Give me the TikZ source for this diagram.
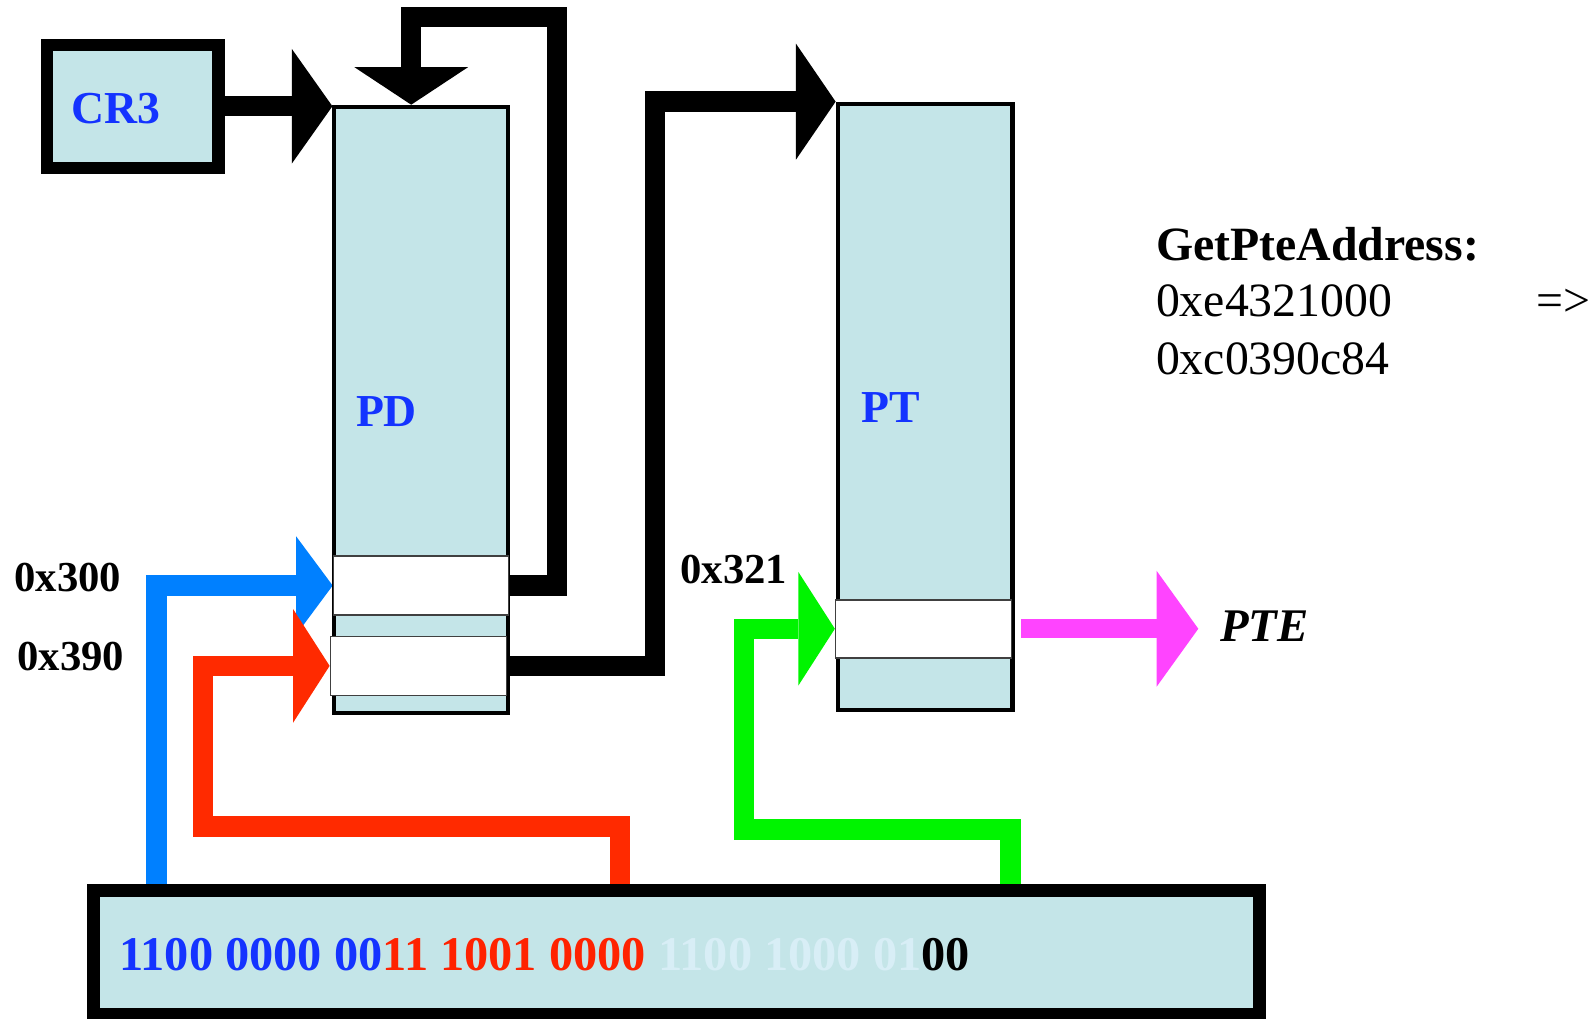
\documentclass[tikz,border=0pt]{standalone}
\usepackage{fontspec}
\setmainfont{Liberation Serif}
\usetikzlibrary{arrows.meta,calc,backgrounds}
\definecolor{boxfill}{HTML}{C4E5E8}
\definecolor{lblblue}{HTML}{1433FF}
\definecolor{arrblue}{HTML}{0080FF}
\definecolor{arrred}{HTML}{FF2A00}
\definecolor{arrgreen}{HTML}{00F400}
\definecolor{arrmag}{HTML}{FF44FF}
\definecolor{txtred}{HTML}{FF2200}
\definecolor{txtlight}{HTML}{D8EEF6}
\tikzset{
  panel/.style={draw=black, fill=boxfill, inner sep=0pt},
  slot/.style={draw=black!75, fill=white, line width=1.5pt, inner sep=0pt},
  conn/.style={line width=20pt, line join=miter, line cap=butt},
  headtip/.style 2 args={-{Triangle[length=#1pt,width=#2pt,line width=0pt]}},
  lbl/.style={font=\fontsize{45}{50}\selectfont\bfseries, text=lblblue, inner sep=0pt, anchor=base west},
  hexlbl/.style={font=\fontsize{42}{46}\selectfont\bfseries, inner sep=0pt, anchor=base west},
  info/.style={font=\fontsize{47}{52}\selectfont, inner sep=0pt, anchor=base west},
}
\begin{document}
\begin{tikzpicture}[x=1pt,y=-1pt]
\useasboundingbox (0,0) rectangle (1568,1002);
% boxes
\node[panel, line width=12pt, minimum width=169pt, minimum height=121pt] (cr3) at (130.5,104.5) {};
\node[panel, line width=4pt, minimum width=171pt, minimum height=596pt] (pd) at (414.5,403) {};
\node[panel, line width=4pt, minimum width=172pt, minimum height=596pt] (pt) at (910,400) {};
\node[slot, minimum width=172pt, minimum height=58pt] (s1) at (414,576) {};
\node[slot, minimum width=173pt, minimum height=58pt] (s2) at (411.5,655) {};
\node[slot, minimum width=173pt, minimum height=57pt] (ps) at (908.5,618.5) {};
\node[panel, line width=12pt, minimum width=1147pt, minimum height=122pt] (va) at (665.5,937) {};
% texts
\node[lbl] (tcr3) at (70,121) {CR3};
\node[lbl] (tpd) at (350,420) {PD};
\node[lbl] (tpt) at (847,416) {PT};
\node[hexlbl] (h300) at (14,582) {0x300};
\node[hexlbl] (h390) at (17,660) {0x390};
\node[hexlbl] (h321) at (669,574) {0x321};
\node[font=\fontsize{46}{50}\selectfont\bfseries\itshape, inner sep=0pt, anchor=base west] (pte) at (1200,631) {PTE};
\node[info] (i1) at (1137,256) {\textbf{GetPteAddress:}};
\node[info] (i2) at (1137,311) {0xe4321000};
\node[info] (i3) at (1137,368) {0xc0390c84};
\node[info] (i4) at (1511,311) {=>};
\node[font=\fontsize{47.6}{52}\selectfont\bfseries, inner sep=0pt, anchor=base west] (bits) at (117,955)
  {\textcolor{lblblue}{1100 0000 00}\textcolor{txtred}{11 1001 0000} \textcolor{txtlight}{1100 1000 01}00};
% connectors
\begin{scope}[on background layer]
\draw[conn, headtip={40}{113}] (cr3.east) -- (cr3.east -| pd.west);
\draw[conn, headtip={37}{112}] (s1.east) -| (548,17) -| ([xshift=-10pt]pd.north);
\draw[conn, headtip={39}{114}] (s2.east) -| ([xshift=-178pt]pt.north west) -- (pt.north west);
\draw[conn, arrblue, headtip={36}{97}] ($(va.north west)+(68,0)$) |- (s1.west);
\draw[conn, arrred, headtip={36}{112}] ($(va.north west)+(524,0)$) |- (200,813) |- (s2.west);
\draw[conn, arrgreen, headtip={36}{112}] ($(va.north west)+(908,0)$) |- (732,816) |- (ps.west);
\draw[conn, line width=19pt, arrmag, headtip={41}{114}] ([xshift=9pt]ps.east) -- ([xshift=183pt]ps.east);
\end{scope}
\end{tikzpicture}
\end{document}
